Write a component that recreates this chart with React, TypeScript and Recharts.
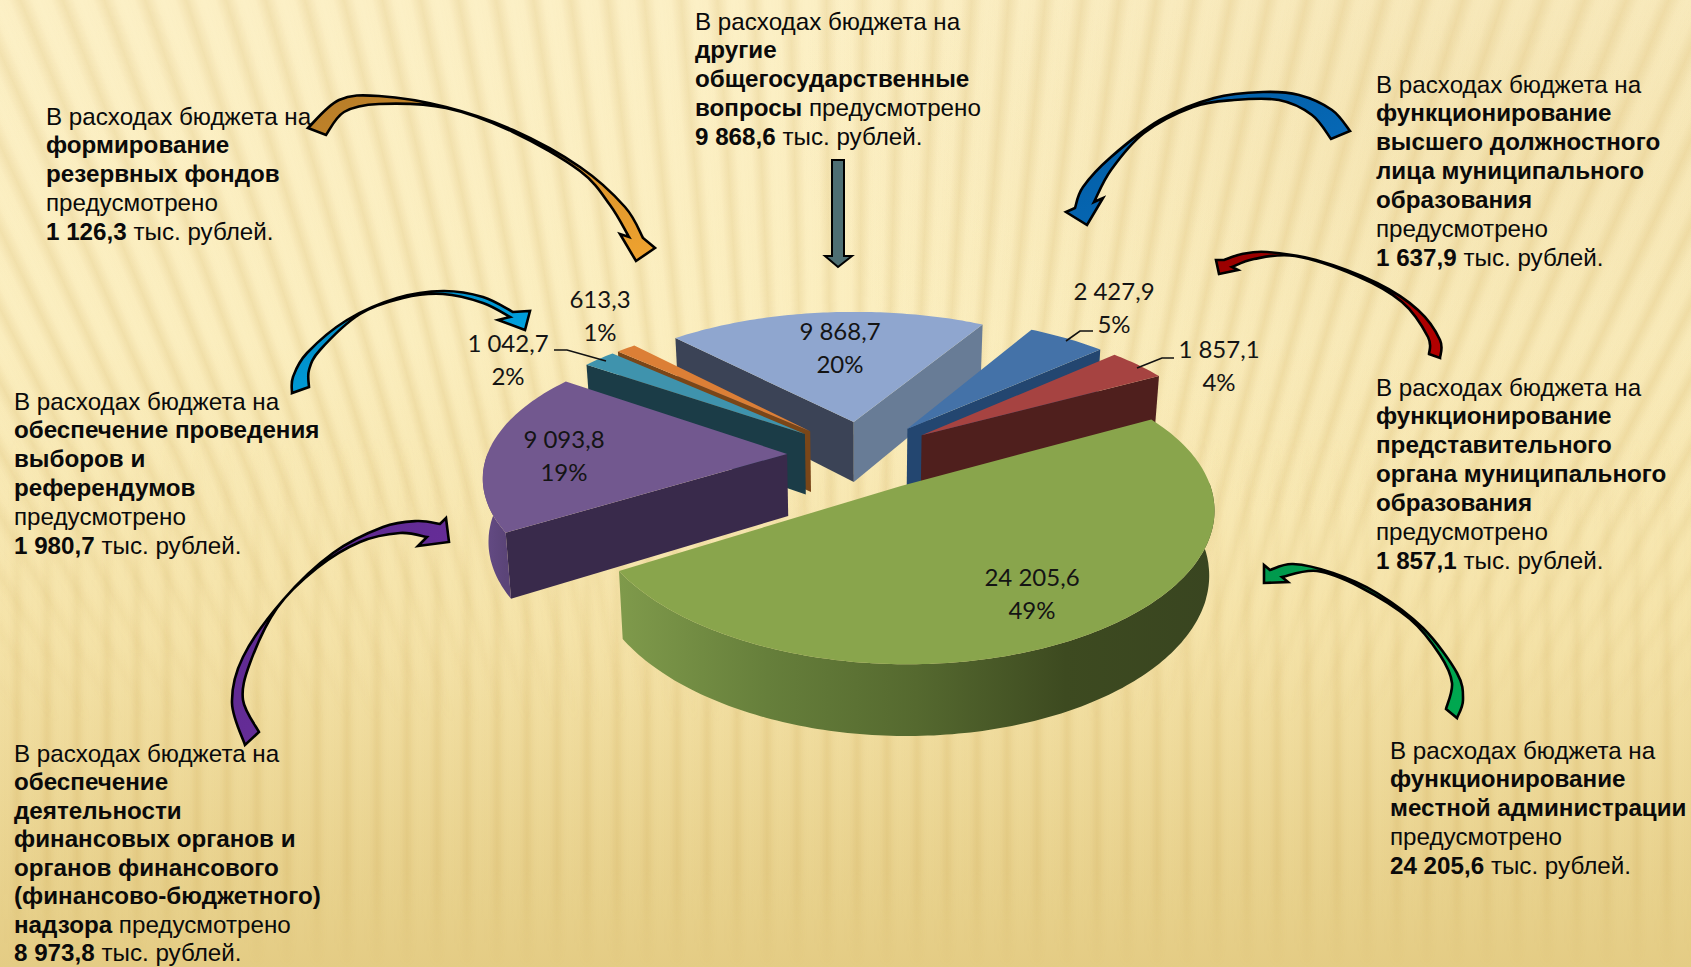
import React from "react";
import { PieChart, Pie } from "recharts";

const sliceNames = ["admin", "finance", "elections", "reserve", "other", "head", "council"];
const sliceValues = [24205.6, 9093.8, 1042.7, 613.3, 9868.7, 2427.9, 1857.1];
const data = sliceNames.map((name, i) => ({ name, value: sliceValues[i] }));

// back to front, so nearer slices cover the walls behind them
const drawOrder = ["other", "reserve", "elections", "finance", "head", "council", "admin"];

const sliceColors: Record<string, { top: string; start: string; end: string; curve: string[] }> = {
  admin: { top: "#89a54c", start: "#7f9a4b", end: "#7f9a4b", curve: ["#7f9a4b", "#667f3b", "#55692f", "#3d4a20", "#394520"] },
  finance: { top: "#72588f", start: "#392a4b", end: "#392a4b", curve: ["#654c86", "#5b4478"] },
  elections: { top: "#3f93ad", start: "#1b3c47", end: "#1b3c47", curve: ["#1b3c47", "#1b3c47"] },
  reserve: { top: "#dc7f36", start: "#7a4618", end: "#7a4618", curve: ["#7a4618", "#7a4618"] },
  other: { top: "#8fa6cf", start: "#3b4356", end: "#687c96", curve: ["#3b4356", "#687c96"] },
  head: { top: "#4472a8", start: "#234670", end: "#234670", curve: ["#234670", "#234670"] },
  council: { top: "#a64341", start: "#4f1f1d", end: "#4f1f1d", curve: ["#4f1f1d", "#4f1f1d"] },
};

// fake 3D projection of the pie plane
const AX = 300;
const BY = 138;
const PERSP_X = 0.14;
const PERSP_Y = 0.163;
const EXPLODE = 0.25;
const DEPTH = 62;
const rad = (a: number) => (a * Math.PI) / 180;

type Pt = [number, number];

function project(cx: number, cy: number, u: number, v: number): Pt {
  return [cx + (AX * u) / (1 - PERSP_X * v), cy + (BY * v) / (1 - PERSP_Y * v)];
}

function drop(cx: number, p: Pt, v: number): Pt {
  return [cx + (p[0] - cx) * 0.985, p[1] + DEPTH + 8 * v];
}

const toPath = (pts: Pt[]) => "M" + pts.map((p) => `${p[0].toFixed(1)},${p[1].toFixed(1)}`).join("L") + "Z";

function Slice3D(props: any) {
  const { cx, cy, startAngle, endAngle, name } = props;
  const colors = sliceColors[name];
  const mid = rad((startAngle + endAngle) / 2);
  const ou = EXPLODE * Math.cos(mid);
  const ov = -EXPLODE * Math.sin(mid);
  const at = (deg: number, r: number): { p: Pt; v: number } => {
    const v = ov - r * Math.sin(rad(deg));
    return { p: project(cx, cy, ou + r * Math.cos(rad(deg)), v), v };
  };

  const apex = at(0, 0);
  const arc: { p: Pt; v: number; deg: number }[] = [];
  const steps = Math.max(4, Math.ceil(Math.abs(startAngle - endAngle)));
  for (let i = 0; i <= steps; i++) {
    const deg = startAngle + ((endAngle - startAngle) * i) / steps;
    arc.push({ ...at(deg, 1), deg });
  }
  const first = arc[0];
  const last = arc[arc.length - 1];

  const radialWall = (e: { p: Pt; v: number }) =>
    toPath([apex.p, e.p, drop(cx, e.p, e.v), drop(cx, apex.p, apex.v)]);

  const showStart = Math.sin(rad(startAngle + 90)) < 0;
  const showEnd = Math.sin(rad(endAngle - 90)) < 0;
  const front = arc.filter((a) => Math.sin(rad(a.deg)) < 0.02);
  const gradId = `curve-${name}`;
  const xs = front.map((a) => a.p[0]);

  return (
    <g>
      {front.length > 1 && (
        <defs>
          <linearGradient
            id={gradId}
            gradientUnits="userSpaceOnUse"
            x1={Math.min(...xs)}
            x2={Math.max(...xs)}
            y1={0}
            y2={0}
          >
            {colors.curve.map((c, i) => (
              <stop key={i} offset={i / (colors.curve.length - 1)} stopColor={c} />
            ))}
          </linearGradient>
        </defs>
      )}
      {showStart && <path d={radialWall(first)} fill={colors.start} />}
      {showEnd && <path d={radialWall(last)} fill={colors.end} />}
      {front.length > 1 && (
        <path
          d={toPath([...front.map((a) => a.p), ...[...front].reverse().map((a) => drop(cx, a.p, a.v))])}
          fill={`url(#${gradId})`}
        />
      )}
      <path d={toPath([apex.p, ...arc.map((a) => a.p)])} fill={colors.top} />
    </g>
  );
}

const labelSpots: Record<string, { x: number; y: number; line?: Pt[] }> = {
  admin: { x: 1032, y: 578 },
  finance: { x: 564, y: 440 },
  elections: { x: 508, y: 344, line: [[554, 350], [567, 350], [606, 361]] },
  reserve: { x: 600, y: 300 },
  other: { x: 840, y: 332 },
  head: { x: 1114, y: 292, line: [[1093, 331], [1080, 331], [1066, 341]] },
  council: { x: 1219, y: 350, line: [[1174, 358], [1162, 358], [1137, 368]] },
};

const formatValue = (v: number) => {
  const [whole, frac] = v.toFixed(1).split(".");
  return `${whole.replace(/\B(?=(\d{3})+$)/g, " ")},${frac}`;
};

function renderLabel(props: any) {
  const spot = labelSpots[props.name];
  const style = { fontFamily: "Lato", fontSize: 24, fill: "#141414" };
  return (
    <g key={props.name}>
      {spot.line && (
        <polyline
          points={spot.line.map((p) => p.join(",")).join(" ")}
          fill="none"
          stroke="#111"
          strokeWidth={1.6}
        />
      )}
      <text x={spot.x} y={spot.y + 8} textAnchor="middle" style={style}>
        {formatValue(props.value)}
      </text>
      <text x={spot.x} y={spot.y + 41} textAnchor="middle" style={style}>
        {`${Math.round(props.percent * 100)}%`}
      </text>
    </g>
  );
}

const captions: { x: number; y: number; lh?: number; lines: (string | [string, string])[] }[] = [
  {
    x: 46,
    y: 117,
    lines: ["В расходах бюджета на", ["формирование", ""], ["резервных фондов", ""], "предусмотрено", ["1 126,3", " тыс. рублей."]],
  },
  {
    x: 695,
    y: 22,
    lines: ["В расходах бюджета на", ["другие", ""], ["общегосударственные", ""], ["вопросы", " предусмотрено"], ["9 868,6", " тыс. рублей."]],
  },
  {
    x: 1376,
    y: 85,
    lines: ["В расходах бюджета на", ["функционирование", ""], ["высшего должностного", ""], ["лица муниципального", ""], ["образования", ""], "предусмотрено", ["1 637,9", " тыс. рублей."]],
  },
  {
    x: 1376,
    y: 388,
    lines: ["В расходах бюджета на", ["функционирование", ""], ["представительного", ""], ["органа муниципального", ""], ["образования", ""], "предусмотрено", ["1 857,1", " тыс. рублей."]],
  },
  {
    x: 1390,
    y: 751,
    lines: ["В расходах бюджета на", ["функционирование", ""], ["местной администрации", ""], "предусмотрено", ["24 205,6", " тыс. рублей."]],
  },
  {
    x: 14,
    y: 402,
    lines: ["В расходах бюджета на", ["обеспечение проведения", ""], ["выборов и", ""], ["референдумов", ""], "предусмотрено", ["1 980,7", " тыс. рублей."]],
  },
  {
    x: 14,
    y: 754,
    lh: 28.5,
    lines: ["В расходах бюджета на", ["обеспечение", ""], ["деятельности", ""], ["финансовых органов и", ""], ["органов финансового", ""], ["(финансово-бюджетного)", ""], ["надзора", " предусмотрено"], ["8 973,8", " тыс. рублей."]],
  },
];

type Arrow = { outer: Pt[]; head: Pt[]; inner: Pt[]; from: string; to: string };

const arrows: Arrow[] = [
  {
    outer: [[308, 128], [339, 100], [379, 96], [446, 107], [513, 130], [580, 167], [625, 207], [643, 238]],
    head: [[655, 248], [636, 261], [620, 234], [629, 237]],
    inner: [[629, 237], [610, 205], [580, 171], [513, 132], [446, 108], [379, 104], [344, 112], [326, 135]],
    from: "#b67c28",
    to: "#f0a32f",
  },
  {
    outer: [[292, 393], [293, 377], [307, 353], [347, 320], [397, 298], [443, 291], [483, 297], [513, 312]],
    head: [[530, 311], [525, 330], [498, 320], [510, 317]],
    inner: [[510, 317], [483, 303], [443, 294], [403, 298], [360, 314], [320, 350], [309, 370], [309, 387]],
    from: "#0081b8",
    to: "#00b0f0",
  },
  {
    outer: [[245, 745], [232, 703], [243, 657], [283, 600], [333, 553], [383, 527], [417, 521], [440, 524]],
    head: [[446, 518], [449, 542], [418, 546], [427, 537]],
    inner: [[427, 537], [400, 533], [360, 542], [317, 568], [277, 608], [250, 663], [243, 700], [259, 732]],
    from: "#58288c",
    to: "#7030a0",
  },
  {
    outer: [[1350, 131], [1332, 110], [1299, 95], [1263, 92], [1214, 98], [1160, 120], [1111, 157], [1083, 187], [1075, 208]],
    head: [[1066, 212], [1087, 225], [1103, 198], [1094, 202]],
    inner: [[1094, 202], [1111, 170], [1144, 133], [1193, 107], [1234, 100], [1279, 100], [1312, 115], [1331, 139]],
    from: "#005a9e",
    to: "#0a6fc2",
  },
  {
    outer: [[1440, 358], [1440, 340], [1418, 310], [1377, 283], [1316, 260], [1267, 252], [1242, 254], [1224, 260]],
    head: [[1216, 260], [1219, 274], [1238, 270], [1232, 267]],
    inner: [[1232, 267], [1254, 259], [1295, 256], [1357, 276], [1402, 302], [1428, 337], [1429, 354]],
    from: "#990000",
    to: "#b30000",
  },
  {
    outer: [[1457, 718], [1463, 700], [1457, 673], [1423, 628], [1377, 593], [1333, 573], [1293, 564], [1270, 570]],
    head: [[1264, 565], [1264, 583], [1288, 582], [1282, 577]],
    inner: [[1282, 577], [1317, 571], [1360, 587], [1410, 619], [1440, 655], [1452, 683], [1446, 709]],
    from: "#00994d",
    to: "#00a850",
  },
];

// Catmull-Rom through the points, as cubic segments
function smooth(pts: Pt[]): string {
  let d = "";
  for (let i = 0; i < pts.length - 1; i++) {
    const p0 = pts[Math.max(0, i - 1)];
    const p1 = pts[i];
    const p2 = pts[i + 1];
    const p3 = pts[Math.min(pts.length - 1, i + 2)];
    d += `C${p1[0] + (p2[0] - p0[0]) / 6},${p1[1] + (p2[1] - p0[1]) / 6} ${p2[0] - (p3[0] - p1[0]) / 6},${p2[1] - (p3[1] - p1[1]) / 6} ${p2[0]},${p2[1]}`;
  }
  return d;
}

const arrowPath = (a: Arrow) =>
  `M${a.outer[0].join(",")}` +
  smooth(a.outer) +
  a.head.map((p) => `L${p.join(",")}`).join("") +
  smooth(a.inner) +
  "Z";

const pageBackground = [
  "radial-gradient(ellipse 700px 420px at 88% 12%, rgba(205,165,80,0.14), rgba(205,165,80,0))",
  "linear-gradient(180deg, #fcf0c6 0%, #fbeebf 35%, #f5e3a9 65%, #e4cc84 100%)",
].join(",");

const fanStripes =
  "repeating-conic-gradient(from -40deg at 50% 205%, rgba(190,145,50,0) 0deg, rgba(190,145,50,0.01) 0.3deg, rgba(190,145,50,0.15) 0.6deg, rgba(190,145,50,0.01) 0.9deg, rgba(190,145,50,0) 1.05deg)";
const straightStripes =
  "repeating-linear-gradient(90deg, rgba(190,145,50,0) 0px, rgba(190,145,50,0.01) 9px, rgba(190,145,50,0.14) 17px, rgba(190,145,50,0.01) 25px, rgba(190,145,50,0) 30px)";

const layer = { position: "absolute", left: 0, top: 0, width: 1691, height: 967 } as const;

export default function App() {
  return (
    <div style={{ ...layer, overflow: "hidden", background: pageBackground }}>
      <div
        style={{
          ...layer,
          background: fanStripes,
          WebkitMaskImage: "linear-gradient(180deg, #000 0%, #000 45%, transparent 75%)",
          maskImage: "linear-gradient(180deg, #000 0%, #000 45%, transparent 75%)",
        }}
      />
      <div
        style={{
          ...layer,
          background: straightStripes,
          WebkitMaskImage: "linear-gradient(180deg, transparent 45%, #000 75%, #000 90%, transparent 100%)",
          maskImage: "linear-gradient(180deg, transparent 45%, #000 75%, #000 90%, transparent 100%)",
        }}
      />

      {captions.map((c, i) => {
        const lh = c.lh ?? 28.9;
        return (
          <div
            key={i}
            style={{
              position: "absolute",
              left: c.x,
              top: c.y - lh / 2,
              whiteSpace: "nowrap",
              fontFamily: "'Liberation Sans'",
              fontSize: 24.2,
              lineHeight: `${lh}px`,
              color: "#0a0a0a",
            }}
          >
            {c.lines.map((line, j) =>
              typeof line === "string" ? (
                <div key={j}>{line}</div>
              ) : (
                <div key={j}>
                  <b>{line[0]}</b>
                  {line[1]}
                </div>
              )
            )}
          </div>
        );
      })}

      <div style={{ position: "absolute", left: 0, top: 0 }}>
        <PieChart width={1691} height={967} margin={{ top: 0, right: 0, bottom: 0, left: 0 }}>
          {drawOrder.map((name) => (
            <Pie
              key={name}
              data={data}
              dataKey="value"
              nameKey="name"
              cx={862}
              cy={455}
              outerRadius={100}
              startAngle={29}
              endAngle={-331}
              isAnimationActive={false}
              shape={(p: any) => (p.name === name ? <Slice3D {...p} /> : <g />)}
            />
          ))}
          <Pie
            data={data}
            dataKey="value"
            nameKey="name"
            cx={862}
            cy={455}
            outerRadius={100}
            startAngle={29}
            endAngle={-331}
            isAnimationActive={false}
            shape={() => <g />}
            label={renderLabel}
            labelLine={false}
          />
        </PieChart>
      </div>

      <svg width={1691} height={967} style={{ position: "absolute", left: 0, top: 0, pointerEvents: "none" }}>
        <defs>
          {arrows.map((a, i) => (
            <linearGradient key={i} id={`arrow-${i}`} x1="0" y1="0" x2="1" y2="1">
              <stop offset="0" stopColor={a.from} />
              <stop offset="1" stopColor={a.to} />
            </linearGradient>
          ))}
        </defs>
        {arrows.map((a, i) => (
          <path key={i} d={arrowPath(a)} fill={`url(#arrow-${i})`} stroke="#000" strokeWidth={2.6} strokeLinejoin="miter" />
        ))}
        <path
          d="M832,160L844,160L844,256L852,256L838,267L825,256L832,256Z"
          fill="#4e6f73"
          stroke="#000"
          strokeWidth={2}
        />
      </svg>
    </div>
  );
}
